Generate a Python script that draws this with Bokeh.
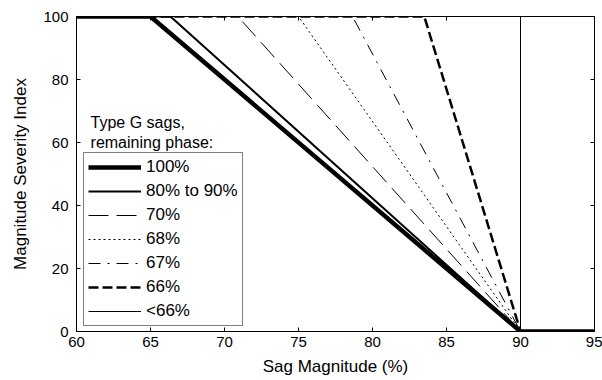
from bokeh.plotting import figure
from bokeh.models import Range1d, LinearAxis, Legend, LegendItem, Label, FixedTicker
from bokeh.embed import file_html
from bokeh.resources import INLINE

# Data: each curve is flat at 100 until its start magnitude, falls linearly to 0 at 90, then stays 0
series_labels = ["100%", "80% to 90%", "70%", "68%", "67%", "66%", "<66%"]
start_mag = [65.0, 66.35, 70.9, 75.0, 78.65, 83.5, 90.0]
knee_mag = 90.0
x_min, x_max = 60, 95
msi_max, msi_min = 100, 0

x_ticks = [60, 65, 70, 75, 80, 85, 90, 95]
y_ticks = [0, 20, 40, 60, 80, 100]

styles = [
    dict(line_width=4.5, line_dash="solid"),
    dict(line_width=2, line_dash="solid"),
    dict(line_width=1, line_dash="20 8"),
    dict(line_width=1, line_dash="2 3"),
    dict(line_width=1, line_dash="12 7 2 7"),
    dict(line_width=2.5, line_dash="10 4"),
    dict(line_width=1, line_dash="solid"),
]

FONT = "Liberation Sans"

p = figure(width=602, height=380, output_backend="svg", toolbar_location=None,
           x_range=Range1d(x_min, x_max), y_range=Range1d(msi_min, msi_max),
           min_border_left=76, min_border_right=8, min_border_top=16, min_border_bottom=49)
p.background_fill_color = "white"
p.border_fill_color = "white"
p.outline_line_color = "black"
p.outline_line_width = 1
p.xgrid.visible = False
p.ygrid.visible = False

for ax in (p.xaxis[0], p.yaxis[0]):
    ax.major_tick_in = 4
    ax.major_tick_out = 0
    ax.minor_tick_in = 0
    ax.minor_tick_out = 0
    ax.axis_line_color = "black"
    ax.major_tick_line_color = "black"
    ax.major_label_text_font = FONT
    ax.major_label_text_font_size = "15px"
    ax.major_label_text_color = "black"
    ax.axis_label_text_font = FONT
    ax.axis_label_text_font_size = "17px"
    ax.axis_label_text_font_style = "normal"
    ax.axis_label_text_color = "black"

p.xaxis.ticker = FixedTicker(ticks=x_ticks)
p.yaxis.ticker = FixedTicker(ticks=y_ticks)
p.xaxis.axis_label = "Sag Magnitude (%)"
p.yaxis.axis_label = "Magnitude Severity Index"
p.xaxis.major_label_standoff = 5
p.yaxis.major_label_standoff = 8
p.xaxis.axis_label_standoff = 7
p.yaxis.axis_label_standoff = 10

# mirrored ticks on top and right (no labels)
for loc, ticks in (("above", x_ticks), ("right", y_ticks)):
    a = LinearAxis(ticker=FixedTicker(ticks=ticks), major_tick_in=4, major_tick_out=0,
                   minor_tick_in=0, minor_tick_out=0,
                   major_label_overrides={t: "" for t in ticks},
                   major_label_standoff=0, axis_line_color="black", major_tick_line_color="black")
    p.add_layout(a, loc)

items = []
for lab, x0, st in zip(series_labels, start_mag, styles):
    xs = [x_min, x0, knee_mag, x_max]
    ys = [msi_max, msi_max, msi_min, msi_min]
    r = p.line(xs, ys, line_color="black", line_join="miter", **st)
    items.append(LegendItem(label=lab, renderers=[r]))

legend = Legend(items=items, location=(7, 5), orientation="vertical",
                glyph_width=53, glyph_height=20, label_height=20, spacing=4, padding=4,
                label_standoff=5, label_text_font=FONT, label_text_font_size="17px",
                label_text_color="black", border_line_color="black", border_line_width=1,
                background_fill_color="white", background_fill_alpha=1, margin=0)
p.add_layout(legend, "center")

p.add_layout(Label(x=60.95, y=66.3, text="Type G sags,", text_font=FONT,
                   text_font_size="16px", text_baseline="middle", text_color="black"))
p.add_layout(Label(x=60.95, y=60.0, text="remaining phase:", text_font=FONT,
                   text_font_size="16px", text_baseline="middle", text_color="black"))

open("out.html", "w").write(file_html(p, INLINE))
